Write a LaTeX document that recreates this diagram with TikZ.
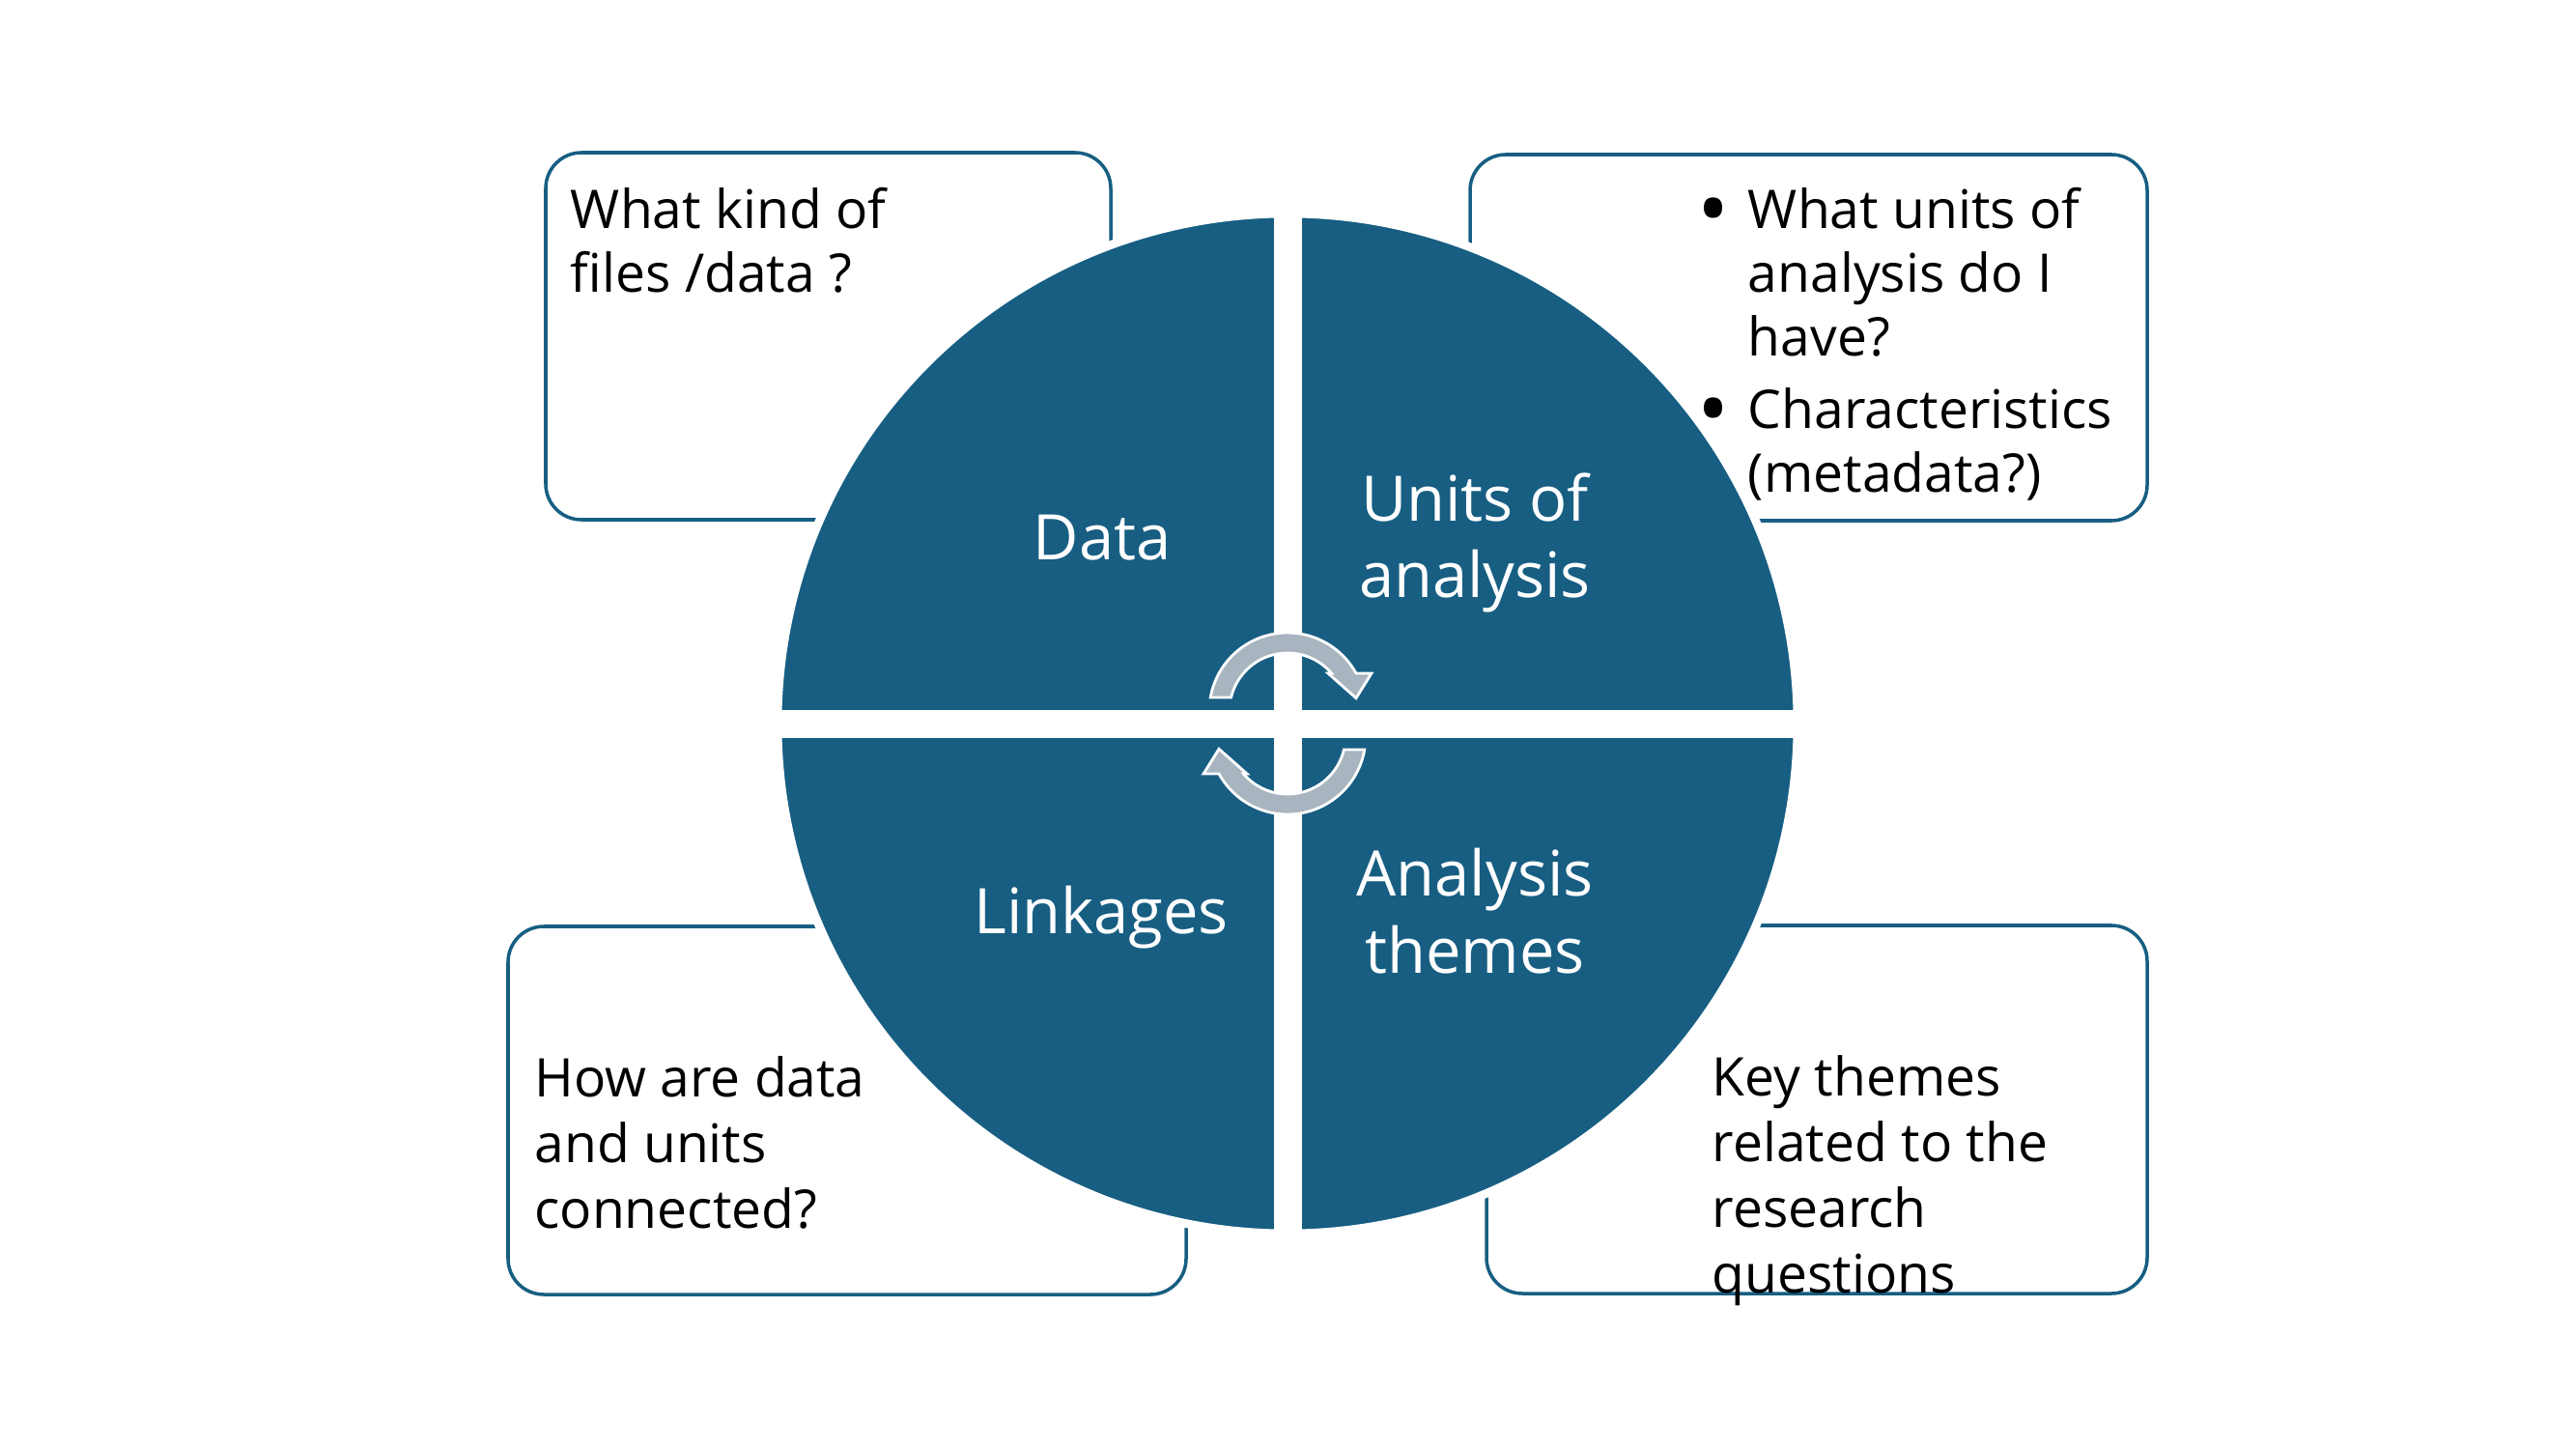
\documentclass[tikz,border=0pt]{standalone}
\usepackage{fontspec}
\setmainfont{Open Sans}
\usetikzlibrary{positioning}
\definecolor{cycleblue}{HTML}{175E82}
\definecolor{arrowgray}{HTML}{A8B4BF}
\newcommand{\bigdot}{\makebox[0.45cm][l]{\hspace*{-0.07cm}\raisebox{-3.2pt}{\fontsize{25}{25}\selectfont\textbullet}}}

\begin{document}
\begin{tikzpicture}[
      note/.style={draw=cycleblue, line width=1pt, rounded corners=0.37cm, fill=white, inner sep=0pt},
      notetext/.style={inner sep=0pt, align=left, font=\fontsize{15.7}{18.8}\selectfont},
      quadlabel/.style={text=white, align=center, font=\fontsize{18.5}{22.7}\selectfont},
      turn/.style={fill=arrowgray, draw=white, line width=0.8pt}
    ]
    \useasboundingbox (0,0) rectangle (26.67,15);
    \node[note, minimum width=5.85cm, minimum height=3.8cm] (filesbox) at (8.575,11.52) {};
    \node[note, minimum width=7.01cm, minimum height=3.79cm] (unitsbox) at (18.725,11.505) {};
    \node[note, minimum width=7.02cm, minimum height=3.81cm] (linksbox) at (8.77,3.505) {};
    \node[note, minimum width=6.84cm, minimum height=3.81cm] (themesbox) at (18.81,3.515) {};
    \coordinate (hub) at (13.33,7.51);
    \fill[cycleblue] (hub) circle (5.28);
    \draw[white, line width=2.5pt] (hub) circle (5.28);
    \fill[white] (hub) ++(-0.145,-5.4) rectangle ++(0.29,10.8);
    \fill[white] (hub) ++(-5.4,-0.145) rectangle ++(10.8,0.29);
    \node[quadlabel] (data) at (11.41,9.43) {Data};
    \node[quadlabel] (units) at (15.27,9.38) {Units of\\analysis};
    \node[quadlabel] (linkages) at (11.40,5.50) {Linkages};
    \node[quadlabel] (themes) at (15.27,5.57) {Analysis\\themes};
    \foreach \a in {0,180}
      \draw[turn, rotate around={\a:(hub)}] (13.33,7.64) ++(170:0.81)
        arc[start angle=170, end angle=28.8, radius=0.81] -- ++(0.16,0) -- ++(-0.16,-0.257)
        -- ++(-0.29,0.257) -- ++(0.036,0) arc[start angle=40.5, end angle=166.5, radius=0.6] -- cycle;
    \node[notetext, below right=0.37cm and 0.27cm of filesbox.north west] (filestext)
      {What kind of\\files /data ?};
    \node[notetext, below right=0.35cm and 2.44cm of unitsbox.north west] (unitstext)
      {\bigdot What units of\\\hspace*{0.45cm}analysis do I\\\hspace*{0.45cm}have?\\[0.09cm]\bigdot Characteristics\\\hspace*{0.45cm}(metadata?)};
    \node[notetext, below right=1.36cm and 0.285cm of linksbox.north west, font=\fontsize{15.7}{19.3}\selectfont] (linkstext)
      {How are data\\and units\\connected?};
    \node[notetext, below right=1.36cm and 2.35cm of themesbox.north west, font=\fontsize{15.7}{19.3}\selectfont] (themestext)
      {Key themes\\related to the\\research\\questions};
  \end{tikzpicture}
\end{document}
